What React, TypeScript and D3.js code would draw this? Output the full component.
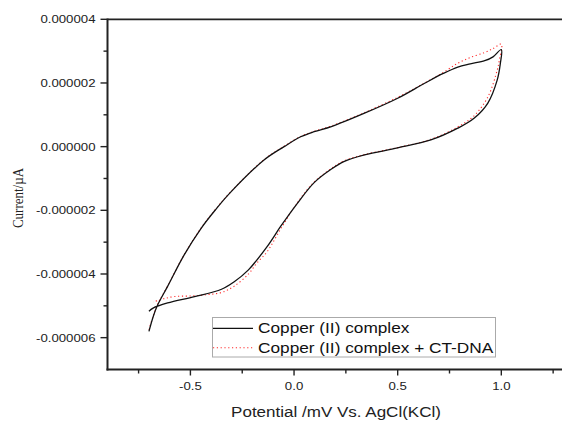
import React from 'react';
import * as d3 from 'd3';

// Potential (mV vs AgCl) and current (x1e-6 µA)
const cuPotential = [
  -0.7, -0.68, -0.66, -0.61, -0.53, -0.45, -0.38, -0.31, -0.145, -0.048, 0.032, 0.097, 0.18, 0.34,
  0.5, 0.63, 0.72, 0.79, 0.85, 0.92, 0.96, 1.0,
  0.995, 0.98, 0.935, 0.87, 0.79, 0.66, 0.5, 0.34, 0.24, 0.177, 0.097, 0.016, -0.064, -0.13,
  -0.22, -0.29, -0.35, -0.48, -0.61, -0.68, -0.7,
];
const cuCurrent = [
  -5.8, -5.35, -5.0, -4.39, -3.4, -2.58, -1.99, -1.46, -0.42, 0.0, 0.31, 0.47, 0.63, 1.05,
  1.52, 1.99, 2.3, 2.5, 2.6, 2.7, 2.82, 3.05,
  2.6, 2.09, 1.37, 0.9, 0.58, 0.21, -0.04, -0.26, -0.47, -0.72, -1.13, -1.78, -2.5, -3.14,
  -3.87, -4.25, -4.48, -4.71, -4.91, -5.07, -5.17,
];

const dnaPotential = [
  -0.7, -0.68, -0.66, -0.61, -0.53, -0.45, -0.38, -0.31, -0.145, -0.048, 0.032, 0.097, 0.18, 0.34,
  0.5, 0.63, 0.72, 0.79, 0.85, 0.92, 0.96, 1.0,
  0.99, 0.98, 0.935, 0.87, 0.79, 0.66, 0.5, 0.34, 0.24, 0.177, 0.097, 0.016, -0.064, -0.13,
  -0.18, -0.22, -0.29, -0.35, -0.42, -0.5, -0.58, -0.63, -0.68,
];
const dnaCurrent = [
  -5.75, -5.33, -4.98, -4.38, -3.39, -2.57, -1.98, -1.45, -0.41, 0.01, 0.32, 0.48, 0.65, 1.07,
  1.55, 2.0, 2.33, 2.62, 2.8, 2.96, 3.08, 3.22,
  2.7, 2.4, 1.56, 0.98, 0.62, 0.23, -0.03, -0.25, -0.45, -0.7, -1.11, -1.76, -2.58, -3.3,
  -3.66, -4.0, -4.39, -4.58, -4.65, -4.69, -4.71, -4.78, -4.88,
];

const yMajor = [-6, -4, -2, 0, 2, 4];
const yMinor = [-5, -3, -1, 1, 3];
const xMajor = [-0.5, 0, 0.5, 1.0];
const xMinor = [-0.75, -0.25, 0.25, 0.75, 1.25];

const seriesNames = ['Copper (II) complex', 'Copper (II) complex + CT-DNA'];

const W = 562;
const H = 421;
const left = 107.5;
const right = 563.5;
const top = 19.3;
const bottom = 369.5;
const sx = 1.15; // reference text is stretched horizontally

const sans = '"Liberation Sans", Arial, sans-serif';

export default function App() {
  const x = d3.scaleLinear().domain([-0.9, 1.3]).range([left, right]);
  const y = d3.scaleLinear().domain([-7, 4]).range([bottom, top]);

  const line = d3
    .line<[number, number]>()
    .x((d) => x(d[0]))
    .y((d) => y(d[1]))
    .curve(d3.curveCatmullRom.alpha(0.5));

  const cuPath = line(cuPotential.map((p, i) => [p, cuCurrent[i]]) as [number, number][]);
  const dnaPath = line(dnaPotential.map((p, i) => [p, dnaCurrent[i]]) as [number, number][]);

  const yLabel = (v: number) => (v * 1e-6).toFixed(6);

  return (
    <svg
      width={W}
      height={H}
      style={{ position: 'absolute', left: 0, top: 0, display: 'block', background: '#fff' }}
    >
      {/* curves */}
      <path d={dnaPath || ''} fill="none" stroke="#ff2a2a" strokeWidth={1.1} strokeDasharray="1.2 2.6" />
      <path d={cuPath || ''} fill="none" stroke="#111" strokeWidth={1.3} />

      {/* frame */}
      <line x1={left} x2={W} y1={top} y2={top} stroke="#222" strokeWidth={1.8} />
      <line x1={left} x2={left} y1={top - 0.9} y2={bottom + 1} stroke="#222" strokeWidth={2} />
      <line x1={left - 1} x2={W} y1={bottom} y2={bottom} stroke="#222" strokeWidth={2} />

      {/* y ticks */}
      {yMajor.map((v) => (
        <g key={'ym' + v}>
          <line x1={left - 7} x2={left} y1={y(v)} y2={y(v)} stroke="#222" strokeWidth={1.4} />
          <text
            transform={`translate(${left - 12},${y(v) + 4}) scale(${sx},1)`}
            textAnchor="end"
            fontFamily={sans}
            fontSize={11.5}
            fill="#222"
          >
            {yLabel(v)}
          </text>
        </g>
      ))}
      {yMinor.map((v) => (
        <line key={'yn' + v} x1={left - 4} x2={left} y1={y(v)} y2={y(v)} stroke="#222" strokeWidth={1.4} />
      ))}

      {/* x ticks */}
      {xMajor.map((v) => (
        <g key={'xm' + v}>
          <line x1={x(v)} x2={x(v)} y1={bottom} y2={bottom + 6} stroke="#222" strokeWidth={1.4} />
          <text
            transform={`translate(${x(v)},390) scale(${sx},1)`}
            textAnchor="middle"
            fontFamily={sans}
            fontSize={11.5}
            fill="#222"
          >
            {v.toFixed(1)}
          </text>
        </g>
      ))}
      {xMinor.map((v) => (
        <line key={'xn' + v} x1={x(v)} x2={x(v)} y1={bottom} y2={bottom + 4} stroke="#222" strokeWidth={1.4} />
      ))}

      {/* axis titles */}
      <text
        transform={`translate(336,417) scale(${sx},1)`}
        textAnchor="middle"
        fontFamily={sans}
        fontSize={14.8}
        fill="#222"
      >
        Potential /mV Vs. AgCl(KCl)
      </text>
      <text
        transform={`translate(23,198) scale(${sx},1) rotate(-90)`}
        textAnchor="middle"
        fontFamily='"Liberation Serif", "Times New Roman", serif'
        fontSize={13}
        fill="#222"
      >
        Current/µA
      </text>

      {/* legend */}
      <rect x={212.5} y={317.5} width={283} height={39.5} fill="#fff" stroke="#aaa" strokeWidth={1} />
      <line x1={213} x2={253} y1={328.3} y2={328.3} stroke="#111" strokeWidth={1.3} />
      <line x1={213} x2={253} y1={347.7} y2={347.7} stroke="#ff2a2a" strokeWidth={1.1} strokeDasharray="1.2 2.6" />
      {seriesNames.map((name, i) => (
        <text
          key={name}
          transform={`translate(258,${333.3 + i * 20}) scale(${sx},1)`}
          fontFamily={sans}
          fontSize={15}
          fill="#111"
        >
          {name}
        </text>
      ))}
    </svg>
  );
}
